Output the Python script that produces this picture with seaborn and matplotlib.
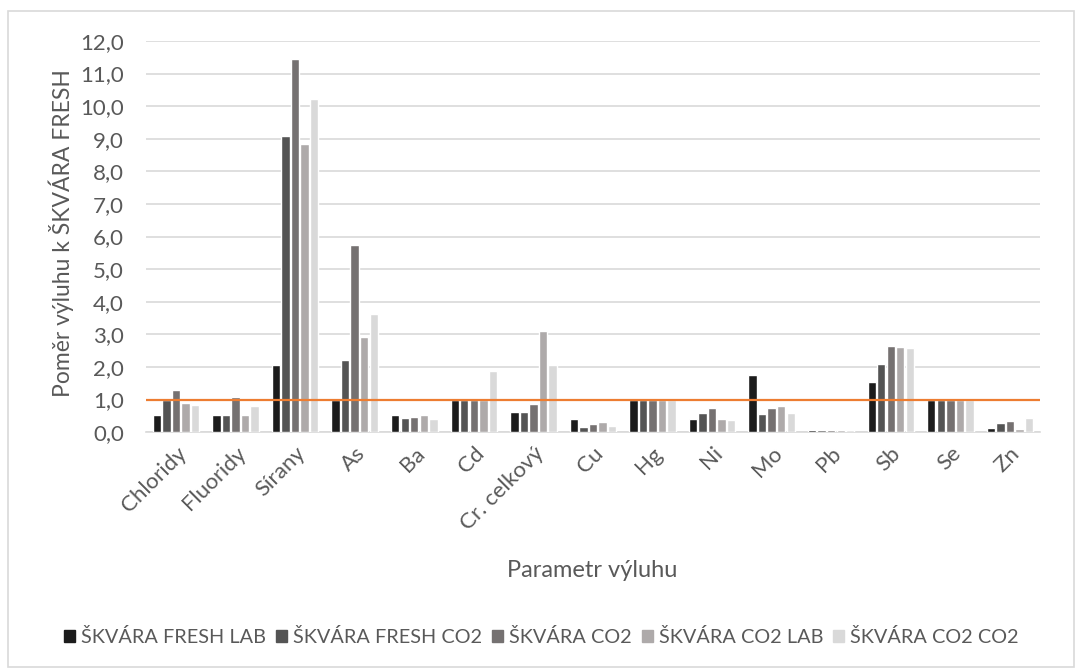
import numpy as np
import pandas as pd
import matplotlib
matplotlib.use("Agg")
import matplotlib.pyplot as plt
from matplotlib.patches import Rectangle
import seaborn as sns

# data
parametry = ["Chloridy", "Fluoridy", "Sírany", "As", "Ba", "Cd", "Cr. celkový",
             "Cu", "Hg", "Ni", "Mo", "Pb", "Sb", "Se", "Zn"]
serie = ["ŠKVÁRA FRESH LAB", "ŠKVÁRA FRESH CO2", "ŠKVÁRA CO2",
         "ŠKVÁRA CO2 LAB", "ŠKVÁRA CO2 CO2"]

fresh_lab = [0.52, 0.52, 2.05, 1.0, 0.52, 1.0, 0.61, 0.39, 1.0, 0.39, 1.76, 0.06, 1.54, 1.0, 0.12]
fresh_co2 = [1.0, 0.52, 9.08, 2.22, 0.43, 1.0, 0.63, 0.15, 1.0, 0.60, 0.55, 0.06, 2.10, 1.0, 0.28]
co2 = [1.29, 1.07, 11.46, 5.75, 0.45, 1.0, 0.85, 0.24, 1.0, 0.74, 0.74, 0.06, 2.63, 1.0, 0.35]
co2_lab = [0.90, 0.52, 8.84, 2.92, 0.52, 1.0, 3.09, 0.32, 1.0, 0.39, 0.81, 0.06, 2.61, 1.0, 0.09]
co2_co2 = [0.84, 0.80, 10.22, 3.62, 0.40, 1.86, 2.07, 0.18, 1.0, 0.38, 0.60, 0.05, 2.58, 1.0, 0.42]

barvy = ["#1c1c1c", "#545454", "#757171", "#aeaaaa", "#d9d9d9"]

df = pd.DataFrame({
    "parametr": parametry * 5,
    "serie": np.repeat(serie, len(parametry)),
    "hodnota": fresh_lab + fresh_co2 + co2 + co2_lab + co2_co2,
})

sns.set_style("white")
plt.rcParams["font.family"] = ["Lato", "DejaVu Sans"]

fig = plt.figure(figsize=(10.83, 6.71), dpi=100)
ax = fig.add_axes([0.135, 0.356, 0.825, 0.583])

sns.barplot(data=df, x="parametr", y="hodnota", hue="serie", order=parametry,
            hue_order=serie, palette=barvy, width=0.8, gap=0.12,
            saturation=1, errorbar=None, legend=False, ax=ax, zorder=3)

ax.axhline(1.0, color="#ED7D31", lw=1.6, zorder=5)

ax.set_ylim(0, 12)
ax.set_xlim(-0.5, len(parametry) - 0.5)
ax.set_yticks(np.arange(0, 13, 1))
ax.set_yticklabels([f"{v:.1f}".replace(".", ",") for v in range(13)],
                   fontsize=16, color="#595959")
ax.set_xticks(range(len(parametry)))
ax.set_xticklabels(parametry, rotation=45, ha="right", rotation_mode="anchor",
                   fontsize=16, color="#595959")
ax.tick_params(axis="y", length=0, pad=16)
ax.tick_params(axis="x", length=0, pad=8)
ax.yaxis.grid(True, color="#d9d9d9", lw=1.2)
ax.set_axisbelow(True)
for s in ["top", "right", "left"]:
    ax.spines[s].set_visible(False)
ax.spines["bottom"].set_color("#d9d9d9")
ax.spines["bottom"].set_linewidth(1.2)
ax.spines["bottom"].set_zorder(1)
ax.set_xlabel("")
ax.set_ylabel("")

fig.text(0.057, 0.652, "Poměr výluhu k ŠKVÁRA FRESH", rotation=90,
         ha="center", va="center", fontsize=16.5, color="#595959")
fig.text(0.547, 0.150, "Parametr výluhu", ha="center", va="center",
         fontsize=17, color="#595959")

handles = [plt.Rectangle((0, 0), 1, 1, color=c) for c in barvy]
fig.legend(handles, serie, loc="center", bbox_to_anchor=(0.5, 0.051), ncol=5,
           frameon=False, fontsize=14.3, handlelength=0.55, handleheight=0.55,
           handletextpad=0.3, columnspacing=0.5, labelcolor="#595959")

fig.patches.append(Rectangle((0.007, 0.006), 0.985, 0.978, transform=fig.transFigure,
                             fill=False, edgecolor="#d9d9d9", lw=1.2))

fig.savefig("out.png", dpi=100)
